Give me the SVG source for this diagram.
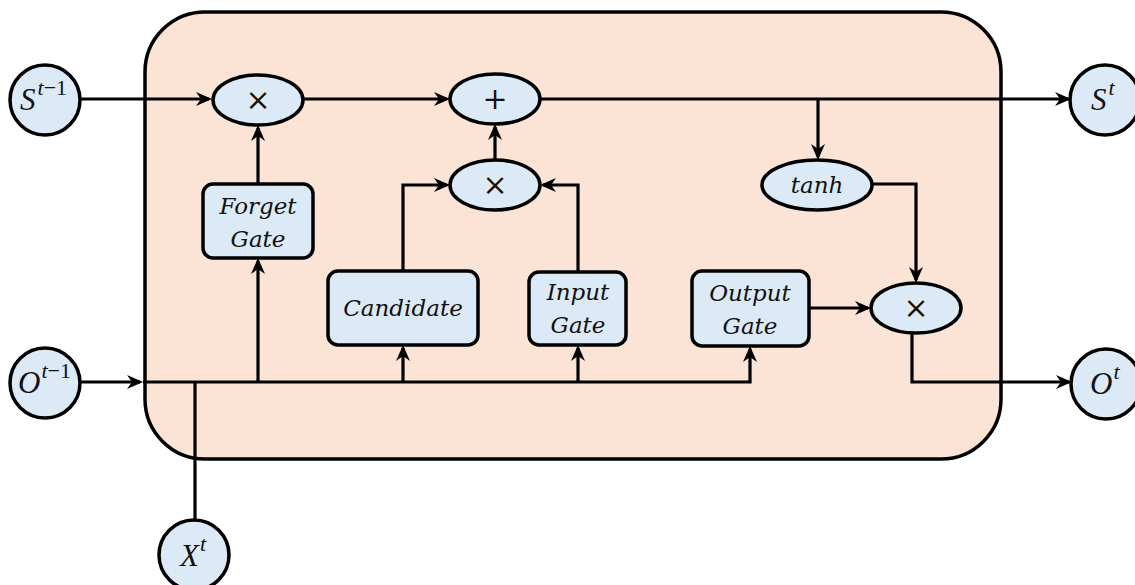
<svg xmlns="http://www.w3.org/2000/svg" width="1135" height="585" viewBox="0 0 1135 585">
  <style>
    .cell { fill: #fbe4d6; stroke: #000; stroke-width: 3.5; }
    .node { fill: #dce9f6; stroke: #000; stroke-width: 3.5; }
    .wire { fill: none; stroke: #000; stroke-width: 3.2; }
    .lbl { font-family: "DejaVu Serif", "Liberation Serif", serif; font-style: italic; font-size: 23px; fill: #111; text-anchor: middle; }
    .op { font-family: "DejaVu Serif", "Liberation Serif", serif; font-style: italic; font-size: 30px; fill: #111; text-anchor: middle; }
    .math { font-family: "Liberation Serif", "DejaVu Serif", serif; font-size: 31px; fill: #111; }
    .it { font-style: italic; }
    .sup { font-size: 22px; }
  </style>
  <defs>
    <marker id="arrow" markerUnits="userSpaceOnUse" markerWidth="18" markerHeight="16" viewBox="0 0 18 16" refX="14" refY="8" orient="auto">
      <path d="M1,1 L17,8 L1,15 L6,8 Z" fill="#000"/>
    </marker>
  </defs>

  <!-- cell body -->
  <rect id="cell" class="cell" x="145" y="12" width="856" height="447" rx="60" ry="60"/>

  <!-- connectors -->
  <g id="connectors" class="wire">
    <path d="M81,99 H209" marker-end="url(#arrow)"/>
    <path d="M303,99 H447" marker-end="url(#arrow)"/>
    <path d="M540,99 H1068" marker-end="url(#arrow)"/>
    <path d="M818,99 V157" marker-end="url(#arrow)"/>
    <path d="M873,184 H916 V280" marker-end="url(#arrow)"/>
    <path d="M258,184 V128" marker-end="url(#arrow)"/>
    <path d="M495,160 V127" marker-end="url(#arrow)"/>
    <path d="M403,271 V185 H447" marker-end="url(#arrow)"/>
    <path d="M578,272 V185 H543" marker-end="url(#arrow)"/>
    <path d="M809,308 H868" marker-end="url(#arrow)"/>
    <path d="M912,333 V382 H1069" marker-end="url(#arrow)"/>
    <path d="M81,382 H140" marker-end="url(#arrow)"/>
    <path d="M143,382 H750 V349" marker-end="url(#arrow)"/>
    <path d="M258,382 V261" marker-end="url(#arrow)"/>
    <path d="M403,382 V348" marker-end="url(#arrow)"/>
    <path d="M578,382 V348" marker-end="url(#arrow)"/>
    <path d="M195,520 V382"/>
  </g>

  <!-- external states -->
  <g id="s-prev">
    <circle class="node" cx="45" cy="100" r="35"/>
    <text class="math" x="20" y="110"><tspan class="it">S</tspan><tspan class="sup it" dy="-15" dx="2">t</tspan><tspan class="sup">−1</tspan></text>
  </g>
  <g id="o-prev">
    <circle class="node" cx="45" cy="383" r="35"/>
    <text class="math" x="18" y="393"><tspan class="it">O</tspan><tspan class="sup it" dy="-15" dx="1">t</tspan><tspan class="sup">−1</tspan></text>
  </g>
  <g id="x-t">
    <circle class="node" cx="194" cy="555" r="35"/>
    <text class="math" x="180" y="566"><tspan class="it">X</tspan><tspan class="sup it" dy="-15" dx="1">t</tspan></text>
  </g>
  <g id="s-t">
    <circle class="node" cx="1105" cy="100" r="35"/>
    <text class="math" x="1091" y="110"><tspan class="it">S</tspan><tspan class="sup it" dy="-15" dx="2">t</tspan></text>
  </g>
  <g id="o-t">
    <circle class="node" cx="1106" cy="384" r="35"/>
    <text class="math" x="1090" y="394"><tspan class="it">O</tspan><tspan class="sup it" dy="-15" dx="1">t</tspan></text>
  </g>

  <!-- pointwise operations -->
  <g id="mul-forget">
    <ellipse class="node" cx="258" cy="100" rx="45" ry="25"/>
    <text class="op" x="258" y="110">×</text>
  </g>
  <g id="add-state">
    <ellipse class="node" cx="495" cy="99" rx="45" ry="25"/>
    <text class="op" x="495" y="109">+</text>
  </g>
  <g id="mul-input">
    <ellipse class="node" cx="495" cy="185" rx="45" ry="25"/>
    <text class="op" x="495" y="195">×</text>
  </g>
  <g id="tanh">
    <ellipse class="node" cx="817" cy="185" rx="55" ry="25"/>
    <text class="lbl" x="817" y="193">tanh</text>
  </g>
  <g id="mul-output">
    <ellipse class="node" cx="916" cy="308" rx="45" ry="25"/>
    <text class="op" x="916" y="318">×</text>
  </g>

  <!-- gates -->
  <g id="forget-gate">
    <rect class="node" x="203" y="184" width="110" height="74" rx="10"/>
    <text class="lbl" x="258" y="214">Forget</text>
    <text class="lbl" x="258" y="247">Gate</text>
  </g>
  <g id="candidate">
    <rect class="node" x="328" y="271" width="150" height="74" rx="10"/>
    <text class="lbl" x="403" y="316">Candidate</text>
  </g>
  <g id="input-gate">
    <rect class="node" x="529" y="272" width="97" height="73" rx="10"/>
    <text class="lbl" x="578" y="300">Input</text>
    <text class="lbl" x="578" y="333">Gate</text>
  </g>
  <g id="output-gate">
    <rect class="node" x="692" y="271" width="117" height="75" rx="10"/>
    <text class="lbl" x="750" y="301">Output</text>
    <text class="lbl" x="750" y="334">Gate</text>
  </g>
</svg>
